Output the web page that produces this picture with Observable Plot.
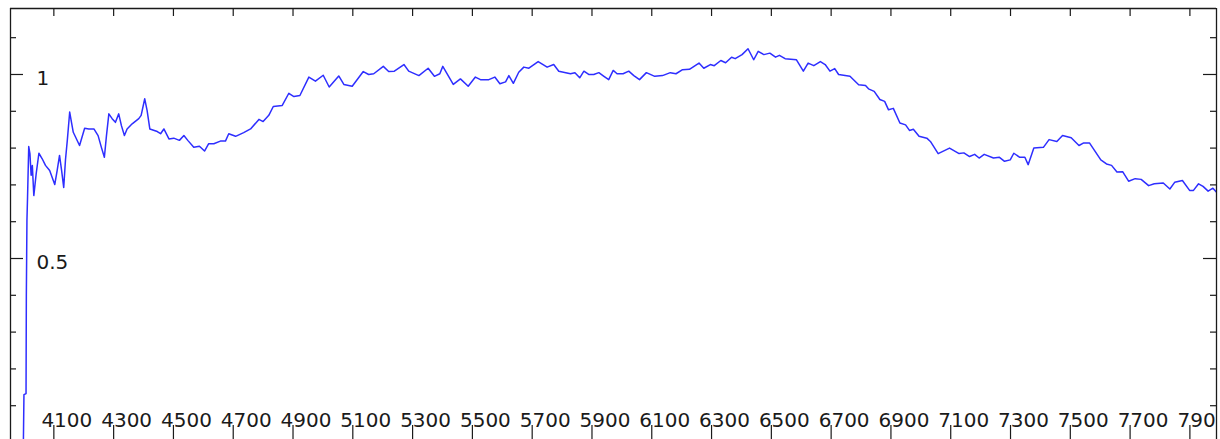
<!DOCTYPE html>
<html>
<head>
<meta charset="utf-8">
<script src="https://cdn.jsdelivr.net/npm/d3@7"></script>
<script src="https://cdn.jsdelivr.net/npm/@observablehq/plot@0.6"></script>
<style>
  html, body { margin: 0; padding: 0; background: #fff; }
  #chart svg { display: block; }
</style>
</head>
<body>
<div id="chart"></div>
<script>
// Wavelength (Å) and normalised flux of the spectrum
const wavelength = [3998,4000,4007,4008,4010,4012,4016,4020,4024,4028,4033,4041,4050,4061,4072,4086,4103,4111,4119,4126,4133,4139,4145,4153,4159,4165,4186,4203,4217,4234,4248,4259,4269,4276,4284,4295,4306,4317,4326,4336,4345,4362,4384,4392,4404,4412,4421,4446,4457,4468,4485,4501,4520,4535,4548,4568,4587,4604,4618,4635,4657,4674,4685,4708,4735,4758,4786,4800,4819,4834,4864,4886,4903,4923,4953,4975,5001,5021,5053,5070,5098,5135,5153,5170,5202,5220,5239,5271,5287,5321,5352,5373,5391,5401,5436,5460,5486,5510,5527,5555,5575,5592,5611,5622,5637,5655,5672,5689,5720,5750,5772,5789,5828,5843,5859,5873,5889,5906,5923,5940,5956,5971,5984,6004,6023,6040,6059,6082,6110,6136,6162,6181,6203,6226,6258,6274,6296,6309,6331,6347,6367,6379,6402,6422,6441,6456,6475,6495,6514,6527,6546,6584,6607,6623,6642,6664,6680,6696,6712,6725,6763,6792,6815,6825,6844,6863,6879,6892,6908,6930,6949,6962,6975,6994,7020,7032,7058,7096,7128,7144,7163,7180,7195,7212,7243,7263,7280,7299,7311,7331,7348,7359,7378,7410,7429,7455,7474,7503,7529,7545,7564,7602,7621,7638,7656,7675,7695,7717,7737,7762,7781,7811,7833,7849,7875,7899,7912,7929,7944,7961,7977,7990];
const flux = [-0.008,0.130,0.133,0.402,0.603,0.666,0.804,0.785,0.726,0.753,0.671,0.731,0.786,0.771,0.753,0.739,0.701,0.739,0.780,0.739,0.693,0.769,0.821,0.898,0.870,0.843,0.807,0.854,0.852,0.852,0.834,0.802,0.775,0.834,0.893,0.880,0.870,0.893,0.861,0.834,0.852,0.866,0.880,0.889,0.934,0.902,0.852,0.845,0.839,0.852,0.825,0.827,0.821,0.834,0.821,0.802,0.805,0.792,0.812,0.812,0.819,0.819,0.839,0.832,0.842,0.852,0.878,0.872,0.889,0.913,0.916,0.949,0.940,0.943,0.993,0.982,0.998,0.966,0.996,0.973,0.968,1.008,1.000,1.002,1.022,1.008,1.009,1.027,1.009,0.997,1.017,0.995,1.002,1.022,0.973,0.988,0.968,0.993,0.986,0.986,0.993,0.975,0.980,0.997,0.976,1.006,1.020,1.017,1.035,1.020,1.027,1.009,1.002,1.005,0.991,1.009,1.000,1.000,1.005,0.995,0.986,1.011,1.002,1.002,1.009,0.997,0.986,1.005,0.995,0.997,1.005,1.002,1.013,1.014,1.031,1.017,1.027,1.024,1.038,1.032,1.047,1.043,1.054,1.070,1.040,1.063,1.054,1.058,1.047,1.052,1.043,1.040,1.009,1.031,1.024,1.035,1.027,1.009,1.016,1.000,0.995,0.972,0.970,0.961,0.954,0.932,0.927,0.904,0.908,0.868,0.863,0.848,0.851,0.832,0.827,0.818,0.785,0.800,0.785,0.787,0.777,0.783,0.773,0.783,0.773,0.775,0.764,0.768,0.786,0.775,0.775,0.755,0.800,0.802,0.823,0.818,0.834,0.828,0.807,0.814,0.814,0.768,0.757,0.753,0.735,0.736,0.710,0.717,0.715,0.698,0.703,0.705,0.689,0.707,0.712,0.685,0.685,0.703,0.696,0.683,0.691,0.679];

// Axis extents and ticks
const xDomain = [3955, 7989];
const yDomain = [0.0082, 1.1793];
const xTicks = [4100,4300,4500,4700,4900,5100,5300,5500,5700,5900,6100,6300,6500,6700,6900,7100,7300,7500,7700,7900];
const yMajorTicks = [0.5, 1];
const yMajorLabels = ["0.5", "1"];
const yMinorTicks = [0.1,0.2,0.3,0.4,0.6,0.7,0.8,0.9,1.1];

const n = Math.min(wavelength.length, flux.length);
const spectrum = d3.range(n).map(i => ({w: wavelength[i], f: flux[i]}));

const W = 1220, H = 439;
const mL = 10, mR = 4, mT = 8, mB = 0;
const fw = W - mL - mR, fh = H - mT - mB;
const axisColor = "#1a1a1a";
const font = "DejaVu Sans, Verdana, sans-serif";

const chart = Plot.plot({
  width: W,
  height: H,
  marginLeft: mL, marginRight: mR, marginTop: mT, marginBottom: mB,
  style: {fontFamily: font, background: "#fff", overflow: "hidden"},
  x: {domain: xDomain, axis: null},
  y: {domain: yDomain, axis: null},
  marks: [
    // spectrum
    Plot.line(spectrum, {x: "w", y: "f", stroke: "#2e2eff", strokeWidth: 1.5, clip: true}),
    // frame (top, left, right)
    Plot.ruleY([yDomain[1]], {stroke: axisColor, strokeWidth: 1.3}),
    Plot.ruleX([xDomain[0], xDomain[1]], {stroke: axisColor, strokeWidth: 1.3}),
    // x ticks top & bottom
    Plot.tickX(xTicks, {x: d => d, stroke: axisColor, strokeWidth: 1.2, insetBottom: fh - 8}),
    Plot.tickX(xTicks, {x: d => d, stroke: axisColor, strokeWidth: 1.2, insetTop: fh - 14}),
    // y ticks left & right
    Plot.tickY(yMajorTicks, {y: d => d, stroke: axisColor, strokeWidth: 1.2, insetRight: fw - 13}),
    Plot.tickY(yMinorTicks, {y: d => d, stroke: axisColor, strokeWidth: 1.2, insetRight: fw - 6}),
    Plot.tickY(yMajorTicks, {y: d => d, stroke: axisColor, strokeWidth: 1.2, insetLeft: fw - 13}),
    Plot.tickY(yMinorTicks, {y: d => d, stroke: axisColor, strokeWidth: 1.2, insetLeft: fw - 6}),
    // x tick labels
    Plot.text(xTicks, {x: d => d, text: d => String(d), frameAnchor: "bottom", dx: 13, dy: -18.5,
      fontSize: 20, fill: axisColor, lineAnchor: "middle", textAnchor: "middle", clip: true}),
    // y tick labels
    Plot.text(yMajorTicks, {y: d => d, text: (d, i) => yMajorLabels[i], frameAnchor: "left", dx: 26, dy: 4,
      fontSize: 20, fill: axisColor, lineAnchor: "middle", textAnchor: "start"})
  ]
});

document.getElementById("chart").appendChild(chart);
</script>
</body>
</html>
